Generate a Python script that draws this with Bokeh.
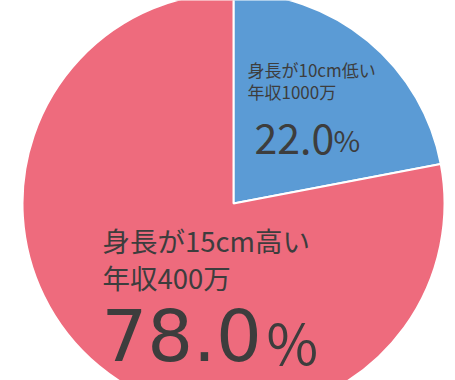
from bokeh.plotting import figure
from bokeh.models import Range1d, ColumnDataSource
from bokeh.core.properties import value
from bokeh.embed import file_html
from bokeh.resources import INLINE
import math

categories = ["身長が10cm低い\n年収1000万", "身長が15cm高い\n年収400万"]
line1 = ["身長が10cm低い", "身長が15cm高い"]
line2 = ["年収1000万", "年収400万"]
values = [22.0, 78.0]
pct_labels = ["22.0", "78.0"]
colors = ["#5B9BD5", "#EE6B7D"]

W, H = 455, 380
p = figure(width=W, height=H, output_backend="svg", toolbar_location=None,
           x_range=Range1d(0, W), y_range=Range1d(0, H), min_border=0,
           background_fill_color="white", border_fill_color="white")
p.axis.visible = False
p.grid.visible = False
p.outline_line_color = None

cx, cy, r = 233, H - 203, 211
start = math.pi / 2
starts, ends = [], []
for v in values:
    a = v / 100 * 2 * math.pi
    starts.append(start)
    ends.append(start - a)
    start -= a
src = ColumnDataSource(dict(x=[cx]*2, y=[cy]*2, s=starts, e=ends, c=colors))
p.wedge(x="x", y="y", radius=r, start_angle="s", end_angle="e", direction="clock",
        fill_color="c", line_color="white", line_width=2, source=src)

tc = "#3d3d3d"
def t(x, y, s, size, f="Noto Sans CJK JP"):
    p.text(x=[x], y=[H - y], text=[s], text_font=value(f), text_font_size=size,
           text_color=tc, text_baseline="alphabetic")

# blue slice labels
t(247, 69, line1[0], "17px")
t(247, 91, line2[0], "17px")
t(254, 138, pct_labels[0], "41px")
t(333, 138, "%", "29px")
# red slice labels
t(102, 239, line1[1], "27.5px")
t(102, 276, line2[1], "27.5px")
t(101, 334, pct_labels[1], "72px", "DejaVu Sans")
t(266, 340, "%", "56px")

open("out.html", "w").write(file_html(p, INLINE))
